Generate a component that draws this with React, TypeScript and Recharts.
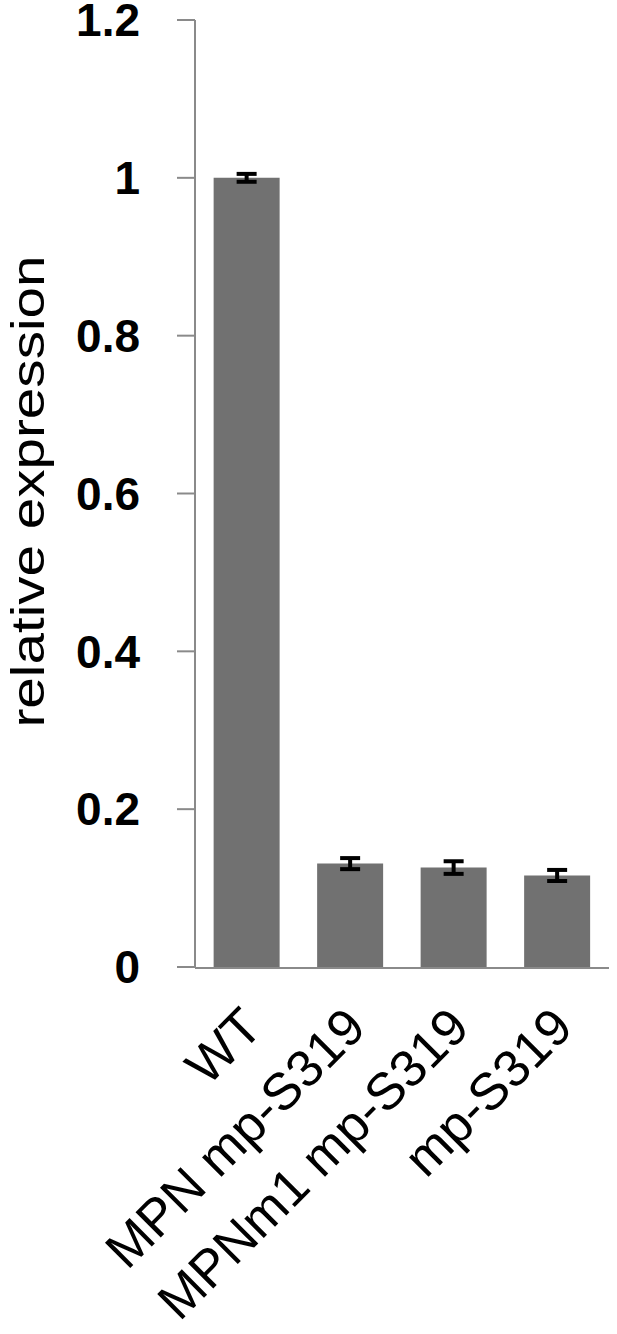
import { BarChart, Bar, XAxis, YAxis, ErrorBar, Label } from "recharts";

// relative expression per strain
const strains = ["WT", "MPN mp-S319", "MPNm1 mp-S319", "mp-S319"];
const expression = [1.0, 0.131, 0.126, 0.116];
const expressionErr = [0.005, 0.007, 0.008, 0.007];
const yTicks = [0, 0.2, 0.4, 0.6, 0.8, 1, 1.2];
const edgeTicks = [0, 1, 2, 3, 4];

const data = strains.map((name, i) => ({
    name,
    value: expression[i],
    err: expressionErr[i],
}));

const axisGray = "#8a8a8a";

function StrainTick(props: any) {
    const { x, y, payload } = props;
    const ax = x + 18;
    const ay = y + 63;
    return (
        <text
            x={ax}
            y={ay}
            transform={`rotate(-45, ${ax}, ${ay})`}
            textAnchor="end"
            fontFamily="'Liberation Sans', Arial, sans-serif"
            fontSize={52}
            fill="#000"
        >
            {payload.value}
        </text>
    );
}

function YTitle(props: any) {
    const vb = props.viewBox;
    const lx = vb.x - 1;
    const ly = vb.y + vb.height / 2 - 2;
    return (
        <text
            x={lx}
            y={ly}
            transform={`rotate(-90, ${lx}, ${ly})`}
            textAnchor="middle"
            fontFamily="'Liberation Sans', Arial, sans-serif"
            fontSize={46}
            textLength={472}
            lengthAdjust="spacingAndGlyphs"
            fill="#000"
        >
            relative expression
        </text>
    );
}

export default function App() {
    return (
        <div style={{ position: "absolute", left: 0, top: 0, width: 617, height: 1334, background: "#fff" }}>
            <BarChart
                width={617}
                height={1334}
                data={data}
                margin={{ top: 20, right: 8, left: 45, bottom: 66 }}
                barCategoryGap="18%"
            >
                <XAxis
                    xAxisId="cat"
                    dataKey="name"
                    type="category"
                    height={1}
                    interval={0}
                    axisLine={false}
                    tickLine={false}
                    tickSize={0}
                    tickMargin={0}
                    tick={<StrainTick />}
                />
                <XAxis
                    xAxisId="edges"
                    type="number"
                    domain={[0, 4]}
                    ticks={edgeTicks}
                    allowDataOverflow
                    height={300}
                    tick={false}
                    tickSize={17}
                    axisLine={{ stroke: axisGray, strokeWidth: 2 }}
                    tickLine={{ stroke: axisGray, strokeWidth: 2 }}
                />
                <YAxis
                    width={150}
                    domain={[0, 1.2]}
                    ticks={yTicks}
                    interval={0}
                    tickSize={18}
                    tickMargin={37}
                    axisLine={{ stroke: axisGray, strokeWidth: 2 }}
                    tickLine={{ stroke: axisGray, strokeWidth: 2 }}
                    tick={{
                        fill: "#000",
                        fontSize: 46,
                        fontWeight: 700,
                        fontFamily: "'Liberation Sans', Arial, sans-serif",
                    }}
                >
                    <Label content={<YTitle />} />
                </YAxis>
                <Bar
                    xAxisId="cat"
                    dataKey="value"
                    fill="#717171"
                    isAnimationActive={false}
                >
                    <ErrorBar
                        dataKey="err"
                        direction="y"
                        width={10}
                        stroke="#000"
                        strokeWidth={4}
                        isAnimationActive={false}
                    />
                </Bar>
            </BarChart>
        </div>
    );
}
